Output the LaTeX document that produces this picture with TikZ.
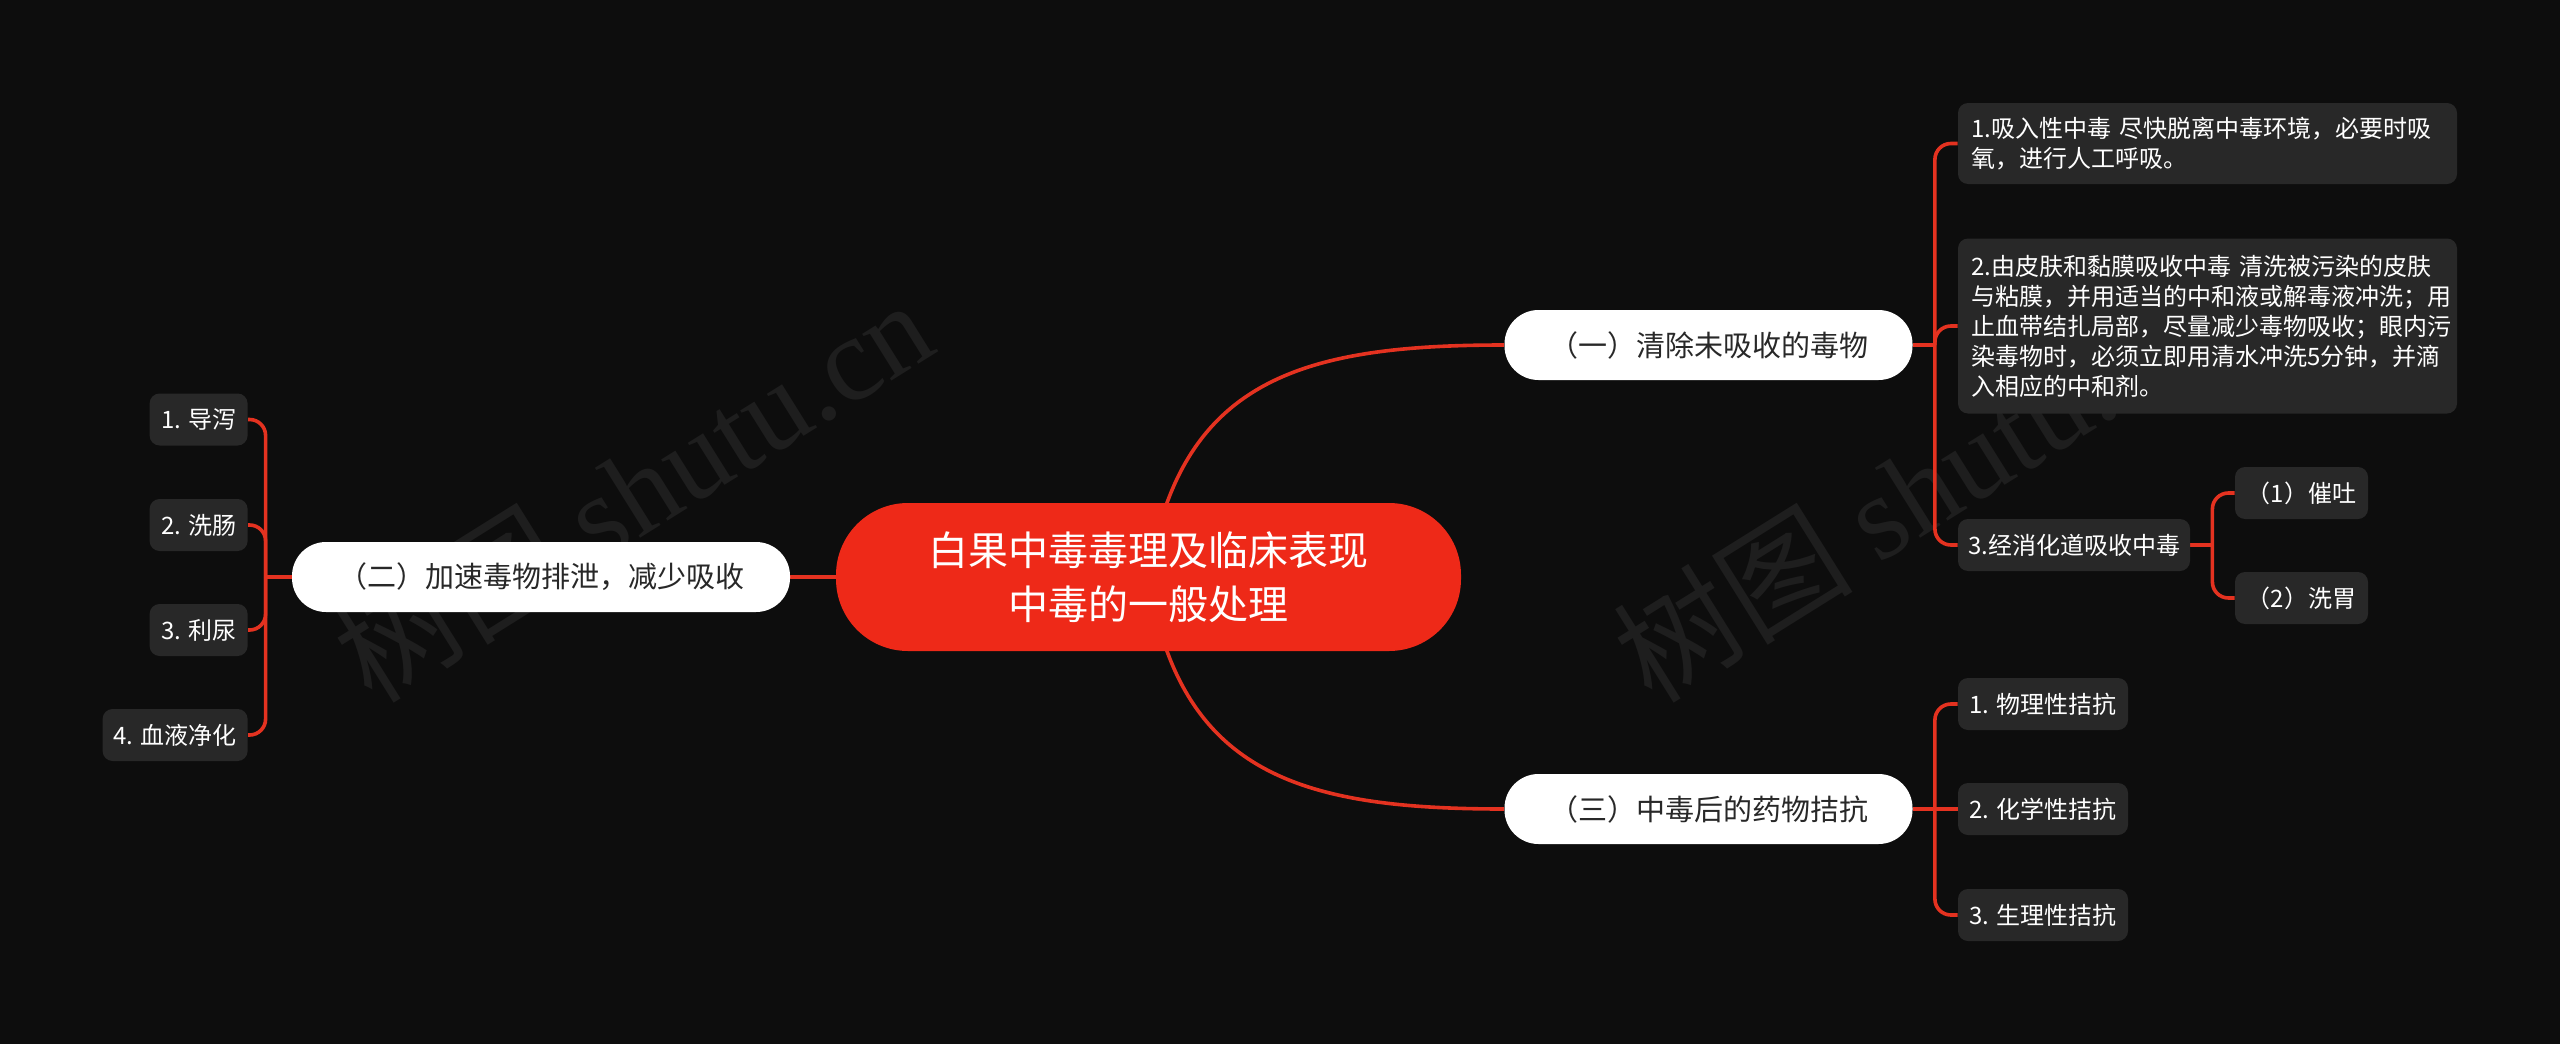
\documentclass[tikz,border=0pt]{standalone}
\usepackage{fontspec}
\setmainfont{Noto Sans CJK SC}
\newfontfamily\wmserif{Liberation Serif}
\newfontfamily\wmcjk{Noto Sans CJK SC}
\usetikzlibrary{calc}
\definecolor{bgc}{RGB}{13,13,13}
\definecolor{rootred}{RGB}{238,41,24}
\definecolor{linered}{RGB}{228,50,32}
\definecolor{leafgray}{RGB}{40,40,40}
\definecolor{pilltext}{RGB}{40,40,40}
\definecolor{wmgray}{RGB}{30,30,30}
\pgfdeclarelayer{wmlayer}
\pgfdeclarelayer{edgelayer}
\pgfsetlayers{wmlayer,edgelayer,main}
\tikzset{
  rootnode/.style={fill=rootred, text=white, rounded corners=36pt, minimum width=312.5pt, minimum height=74pt, inner sep=0pt, align=center, font=\fontsize{20pt}{27pt}\selectfont},
  pill/.style={fill=white, text=pilltext, rounded corners=17pt, minimum height=35pt, inner sep=0pt, font=\fontsize{14.5pt}{18pt}\selectfont},
  leaf/.style={fill=leafgray, text=white, rounded corners=5pt, minimum height=26pt, inner sep=0pt, font=\fontsize{12pt}{15pt}\selectfont},
  bigleaf/.style={leaf, align=left, text width=236.5pt, inner xsep=6.5pt, inner ysep=0pt},
  edge/.style={draw=linered, line width=1.8pt},
  bracket/.style={edge, rounded corners=8pt},
  wm/.style={text=wmgray, inner sep=0pt, rotate=32, anchor=base west}
}
\begin{document}
\begin{tikzpicture}[x=0.5pt,y=-0.5pt]
\begin{pgfonlayer}{wmlayer}
\fill[bgc] (0,0) rectangle (2560,1044);
\node[wm] (w1) at (372,706) {\fontsize{60pt}{64pt}\wmcjk 树图 \wmserif shutu.cn};
\node[wm] (w2) at (1652,706) {\fontsize{60pt}{64pt}\wmcjk 树图 \wmserif shutu.cn};
\end{pgfonlayer}

\node[rootnode] (root) at (1148.5,577) {白果中毒毒理及临床表现\\中毒的一般处理};

\node[pill, minimum width=204pt] (p1) at (1708.5,345) {（一）清除未吸收的毒物};
\node[pill, minimum width=204pt] (p3) at (1708.5,809) {（三）中毒后的药物拮抗};
\node[pill, minimum width=249pt] (p2) at (541,577) {（二）加速毒物排泄，减少吸收};

\node[bigleaf, minimum height=40.5pt] (l1) at (2207.5,143.5) {1.吸入性中毒 尽快脱离中毒环境，必要时吸\\氧，进行人工呼吸。};
\node[bigleaf, minimum height=87.5pt] (l2) at (2207.5,326) {2.由皮肤和黏膜吸收中毒 清洗被污染的皮肤\\与粘膜，并用适当的中和液或解毒液冲洗；用\\止血带结扎局部，尽量减少毒物吸收；眼内污\\染毒物时，必须立即用清水冲洗5分钟，并滴\\入相应的中和剂。};
\node[leaf, minimum width=116pt] (l3) at (2074,545) {3.经消化道吸收中毒};
\node[leaf, minimum width=66.5pt] (s1) at (2301.5,493) {（1）催吐};
\node[leaf, minimum width=66.5pt] (s2) at (2301.5,598) {（2）洗胃};

\node[leaf, minimum width=85pt] (m1) at (2043,704) {1. 物理性拮抗};
\node[leaf, minimum width=85pt] (m2) at (2043,809) {2. 化学性拮抗};
\node[leaf, minimum width=85pt] (m3) at (2043,915) {3. 生理性拮抗};

\node[leaf, minimum width=49pt, anchor=east] (n1) at (248,419.5) {1. 导泻};
\node[leaf, minimum width=49pt, anchor=east] (n2) at (248,525) {2. 洗肠};
\node[leaf, minimum width=49pt, anchor=east] (n3) at (248,630) {3. 利尿};
\node[leaf, minimum width=72.5pt, anchor=east] (n4) at (248,735) {4. 血液净化};

\coordinate (j1) at ($(p1.east)+(22,0)$);
\coordinate (j3) at ($(p3.east)+(22,0)$);
\coordinate (jl) at ($(l3.east)+(22,0)$);
\coordinate (j2) at ($(p2.west)+(-26,0)$);

\begin{pgfonlayer}{edgelayer}
\draw[edge] (root.center) .. controls +(31,-197) and +(-204,0) .. (p1.west);
\draw[edge] (root.center) .. controls +(31,197) and +(-204,0) .. (p3.west);
\draw[edge] (root.center) -- (p2.center);

\draw[edge] (p1.east) -- (j1);
\draw[bracket] (j1) |- (l1.west);
\draw[bracket] (j1) |- (l2.west);
\draw[bracket] (j1) |- (l3.west);

\draw[edge] (l3.east) -- (jl);
\draw[bracket] (jl) |- (s1.west);
\draw[bracket] (jl) |- (s2.west);

\draw[edge] (p3.east) -- (j3);
\draw[bracket] (j3) |- (m1.west);
\draw[edge] (j3) -- (m2.west);
\draw[bracket] (j3) |- (m3.west);

\draw[edge] (p2.west) -- (j2);
\draw[bracket] (j2) |- (n1.east);
\draw[bracket] (j2) |- (n2.east);
\draw[bracket] (j2) |- (n3.east);
\draw[bracket] (j2) |- (n4.east);
\end{pgfonlayer}
\end{tikzpicture}
\end{document}
